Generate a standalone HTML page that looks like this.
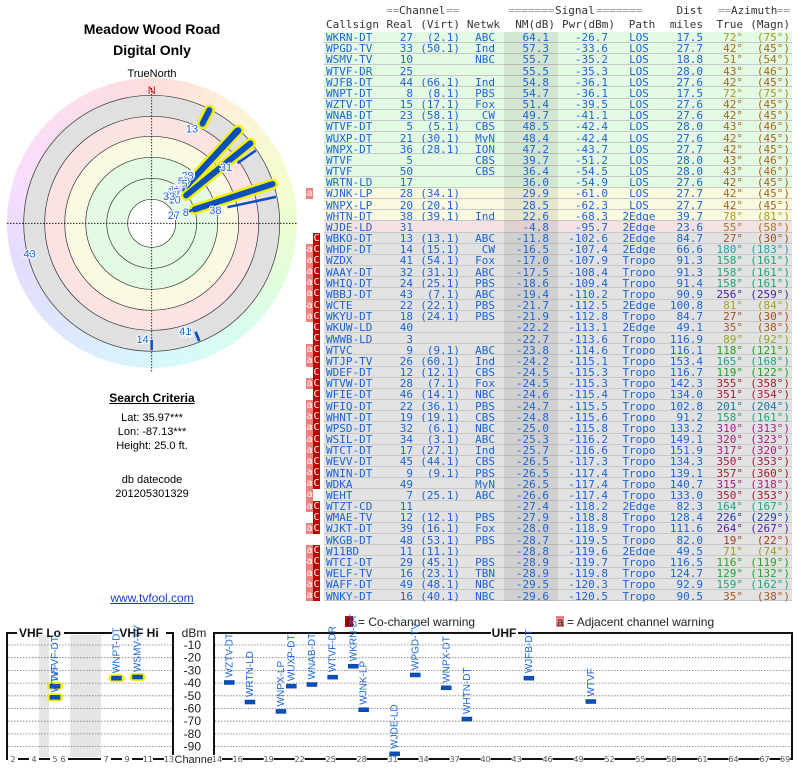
<!DOCTYPE html>
<html><head><meta charset="utf-8">
<style>
html,body{margin:0;padding:0;background:#fff;}
body{width:800px;height:768px;position:relative;overflow:hidden;font-family:"Liberation Sans",sans-serif;}
.abs{position:absolute;white-space:pre;}
.tb{font-family:"DejaVu Sans Mono","Liberation Mono",monospace;font-size:11px;line-height:11px;}
.ctr{text-align:center;width:300px;left:2px;}
#ring{position:absolute;left:6.7px;top:78.3px;width:290px;height:290px;border-radius:50%;
background:conic-gradient(hsl(0,90%,93%),hsl(40,90%,92%),hsl(70,90%,90%),hsl(100,90%,92%),hsl(160,90%,92%),hsl(190,90%,92%),hsl(220,90%,93%),hsl(250,90%,93%),hsl(290,90%,93%),hsl(330,90%,93%),hsl(360,90%,93%));}
</style></head>
<body>
<div class="abs ctr" style="top:21px;font-size:14px;font-weight:bold;">Meadow Wood Road</div>
<div class="abs ctr" style="top:42px;font-size:14px;font-weight:bold;">Digital Only</div>
<div class="abs ctr" style="top:68px;font-size:11px;">TrueNorth</div>
<div id="ring"></div>
<svg id="polar" class="abs" style="left:0;top:0" width="300" height="380"></svg>
<div class="abs ctr" style="top:391px;font-size:12px;font-weight:bold;text-decoration:underline;">Search Criteria</div>
<div class="abs ctr" style="top:412px;font-size:11px;">Lat: 35.97***</div>
<div class="abs ctr" style="top:426px;font-size:11px;">Lon: -87.13***</div>
<div class="abs ctr" style="top:440px;font-size:11px;">Height: 25.0 ft.</div>
<div class="abs ctr" style="top:474px;font-size:11px;">db datecode</div>
<div class="abs ctr" style="top:488px;font-size:11px;">201205301329</div>
<div class="abs ctr" style="top:591px;font-size:12px;color:#1a3fd0;text-decoration:underline;">www.tvfool.com</div>

<div id="table"></div>

<svg id="bars" class="abs" style="left:0;top:610px" width="800" height="158"></svg>

<script>
const calls=["WKRN-DT","WPGD-TV","WSMV-TV","WTVF-DR","WJFB-DT","WNPT-DT","WZTV-DT","WNAB-DT","WTVF-DT","WUXP-DT","WNPX-DT","WTVF","WTVF","WRTN-LD","WJNK-LP","WNPX-LP","WHTN-DT","WJDE-LD","WBKO-DT","WHDF-DT","WZDX","WAAY-DT","WHIQ-DT","WBBJ-DT","WCTE","WKYU-DT","WKUW-LD","WWWB-LD","WTVC","WTJP-TV","WDEF-DT","WTVW-DT","WFIE-DT","WFIQ-DT","WHNT-DT","WPSD-DT","WSIL-DT","WTCT-DT","WEVV-DT","WNIN-DT","WDKA","WEHT","WTZT-CD","WMAE-TV","WJKT-DT","WKGB-DT","W11BD","WTCI-DT","WELF-TV","WAFF-DT","WNKY-DT"];
const reals=[27,33,10,25,44,8,15,23,5,21,36,5,50,17,28,20,38,31,13,14,41,32,24,43,22,18,40,3,9,26,12,28,46,22,19,32,34,17,45,9,49,7,11,12,39,48,11,29,16,49,16];
const virts=["(2.1)","(50.1)","","","(66.1)","(8.1)","(17.1)","(58.1)","(5.1)","(30.1)","(28.1)","","","","(34.1)","(20.1)","(39.1)","","(13.1)","(15.1)","(54.1)","(31.1)","(25.1)","(7.1)","(22.1)","(24.1)","","","(9.1)","(60.1)","(12.1)","(7.1)","(14.1)","(36.1)","(19.1)","(6.1)","(3.1)","(27.1)","(44.1)","(9.1)","","(25.1)","","(12.1)","(16.1)","(53.1)","(11.1)","(45.1)","(23.1)","(48.1)","(40.1)"];
const nets=["ABC","Ind","NBC","","Ind","PBS","Fox","CW","CBS","MyN","ION","CBS","CBS","","","","Ind","","ABC","CW","Fox","ABC","PBS","ABC","PBS","PBS","","","ABC","Ind","CBS","Fox","NBC","PBS","CBS","NBC","ABC","Ind","CBS","PBS","MyN","ABC","","PBS","Fox","PBS","","PBS","TBN","NBC","NBC"];
const nms=[64.1,57.3,55.7,55.5,54.8,54.7,51.4,49.7,48.5,48.4,47.2,39.7,36.4,36.0,29.9,28.5,22.6,-4.8,-11.8,-16.5,-17.0,-17.5,-18.6,-19.4,-21.7,-21.9,-22.2,-22.7,-23.8,-24.2,-24.5,-24.5,-24.6,-24.7,-24.8,-25.0,-25.3,-25.7,-26.5,-26.5,-26.5,-26.6,-27.4,-27.9,-28.0,-28.7,-28.8,-28.9,-28.9,-29.5,-29.6];
const pwrs=[-26.7,-33.6,-35.2,-35.3,-36.1,-36.1,-39.5,-41.1,-42.4,-42.4,-43.7,-51.2,-54.5,-54.9,-61.0,-62.3,-68.3,-95.7,-102.6,-107.4,-107.9,-108.4,-109.4,-110.2,-112.5,-112.8,-113.1,-113.6,-114.6,-115.1,-115.3,-115.3,-115.4,-115.5,-115.6,-115.8,-116.2,-116.6,-117.3,-117.4,-117.4,-117.4,-118.2,-118.8,-118.9,-119.5,-119.6,-119.7,-119.8,-120.3,-120.5];
const paths=["LOS","LOS","LOS","LOS","LOS","LOS","LOS","LOS","LOS","LOS","LOS","LOS","LOS","LOS","LOS","LOS","2Edge","2Edge","2Edge","2Edge","Tropo","Tropo","Tropo","Tropo","2Edge","Tropo","2Edge","Tropo","Tropo","Tropo","Tropo","Tropo","Tropo","Tropo","Tropo","Tropo","Tropo","Tropo","Tropo","Tropo","Tropo","Tropo","2Edge","Tropo","Tropo","Tropo","2Edge","Tropo","Tropo","Tropo","Tropo"];
const dists=["17.5","27.7","18.8","28.0","27.6","17.5","27.6","27.6","28.0","27.6","27.7","28.0","28.0","27.6","27.7","27.7","39.7","23.6","84.7","66.6","91.3","91.3","91.4","90.9","100.8","84.7","49.1","116.9","116.1","153.4","116.7","142.3","134.0","102.8","91.2","133.2","149.1","151.9","134.3","139.1","140.7","133.0","82.3","128.4","111.6","82.0","49.5","116.5","124.7","92.9","90.5"];
const azs=[72,42,51,43,42,72,42,42,43,42,42,43,43,42,42,42,78,55,27,180,158,158,158,256,81,27,35,89,118,165,119,355,351,201,158,310,320,317,350,357,315,350,164,226,264,19,71,116,129,159,35];
const magns=[75,45,54,46,45,75,45,45,46,45,45,46,46,45,45,45,81,58,30,183,161,161,161,259,84,30,38,92,121,168,122,358,354,204,161,313,323,320,353,360,318,353,167,229,267,22,74,119,132,162,38];
const flags=["","","","","","","","","","","","","","","a","","","","c","ac","ac","ac","ac","ac","ac","ac","c","c","ac","ac","c","ac","c","ac","ac","ac","ac","ac","ac","ac","ac","a","ac","c","ac","","ac","ac","ac","ac","ac"];

const chLo=[2,4,5,6,7,9,11,13];
const chUhf=[14,16,19,22,25,28,31,34,37,40,43,46,49,52,55,58,61,64,67,69];
const dbmTicks=[-10,-20,-30,-40,-50,-60,-70,-80,-90];

function azColor(a){const h=a<90?a*0.75:a;return "hsl("+h+",70%,38%)";}
const T=document.getElementById('table');
function txt(s,x,y,align,color,name,extra){
  const d=document.createElement('div');
  d.className='abs tb';
  d.textContent=s;
  d.style.top=y+'px';
  if(align==='r'){d.style.right=(800-x)+'px';}
  else if(align==='c'){d.style.left=(x-40)+'px';d.style.width='80px';d.style.textAlign='center';}
  else d.style.left=x+'px';
  d.style.color=color;
  if(extra)Object.assign(d.style,extra);
  
  
  T.appendChild(d);return d;
}
// headers
txt("==",386,5,'l','#999','channel-header-eq');
txt("Channel",399,5,'l','#333','channel-header');
txt("==",446,5,'l','#999','channel-header-eq2');
txt("=======",508,5,'l','#999','signal-header-eq');
txt("Signal",555,5,'l','#333','signal-header');
txt("=======",596,5,'l','#999','signal-header-eq2');
txt("Dist",703,5,'r','#333','dist-header');
txt("==",718,5,'l','#999','azimuth-header-eq');
txt("Azimuth",731,5,'l','#333','azimuth-header');
txt("==",777,5,'l','#999','azimuth-header-eq2');
txt("Callsign",326,19,'l','#333','callsign-header');
txt("Real",413,19,'r','#333','real-header');
txt("(Virt)",460,19,'r','#333','virt-header');
txt("Netwk",500,19,'r','#333','netwk-header');
txt("NM(dB)",555,19,'r','#333','nm-header');
txt("Pwr(dBm)",615,19,'r','#333','pwr-header');
txt("Path",642,19,'c','#333','path-header');
txt("miles",703,19,'r','#333','miles-header');
txt("True",743,19,'r','#333','true-header');
txt("(Magn)",790,19,'r','#333','magn-header');

for(let i=0;i<calls.length;i++){
  const top=31.5+i*11.17;
  const bg=i<14?'#e3fbe3':(i<17?'#fafae0':(i<18?'#f4e2e2':'#e2e2e2'));
  const r=document.createElement('div');
  r.className='abs';
  Object.assign(r.style,{left:'324px',top:top+'px',width:'468px',height:'11.17px',background:bg,borderBottom:'1px solid #c8c8c8',boxSizing:'border-box'});
  
  
  T.appendChild(r);
  const nmbg=document.createElement('div');
  nmbg.className='abs';
  Object.assign(nmbg.style,{left:'504px',top:top+'px',width:'54px',height:'11.17px',background:'rgba(0,0,0,0.08)'});
  
  
  T.appendChild(nmbg);
  const f=flags[i];
  if(f.indexOf('a')>=0){
    const a=document.createElement('div');a.className='abs tb';a.textContent='a';
    Object.assign(a.style,{left:'306px',top:top+'px',width:'7px',height:'11.2px',background:'#f08080',color:'#fff',textAlign:'center',fontSize:'10px'});
    
    
    T.appendChild(a);
  }
  if(f.indexOf('c')>=0){
    const c=document.createElement('div');c.className='abs tb';c.textContent='C';
    Object.assign(c.style,{left:'313px',top:top+'px',width:'7px',height:'11.2px',background:'#c00000',color:'#fff',textAlign:'center',fontSize:'10px'});
    
    
    T.appendChild(c);
  }
  const y=top+0.5, col='#1a64d8';
  txt(calls[i],326,y,'l',col,'callsign-cell');
  txt(String(reals[i]),413,y,'r',col,'real-channel-cell');
  txt(virts[i],460,y,'r',col,'virtual-channel-cell');
  txt(nets[i],495,y,'r',col,'network-cell');
  txt(nms[i].toFixed(1),549,y,'r',col,'nm-cell');
  txt(pwrs[i].toFixed(1),608,y,'r',col,'power-cell');
  txt(paths[i],639,y,'c',col,'path-cell');
  txt(dists[i],703,y,'r',col,'distance-cell');
  txt(azs[i]+"°",743,y,'r',azColor(azs[i]),'azimuth-true-cell');
  txt("("+magns[i]+"°)",790,y,'r',azColor(azs[i]),'azimuth-magnetic-cell');
}

// polar plot
const NS="http://www.w3.org/2000/svg";
function el(parent,tag,attrs){const e=document.createElementNS(NS,tag);for(const k in attrs)e.setAttribute(k,attrs[k]);parent.appendChild(e);return e;}
const P=document.getElementById('polar');
const cx=151.7, cy=223.3;
const ringFill=[[128,'#e0e0e0'],[107,'#fbe3e3'],[87,'#fafae2'],[66,'#e3fbe3'],[45,'#e3fbe3']];
ringFill.forEach(function(rf){
  const c=el(P,'circle',{cx:cx,cy:cy,r:rf[0],fill:rf[1],stroke:'#333','stroke-width':0.7});
  
  
});
const inner=el(P,'circle',{cx:cx,cy:cy,r:24,fill:'#fff',stroke:'#333','stroke-width':0.7});


const hl=el(P,'line',{x1:7,y1:cy,x2:297,y2:cy,stroke:'#000','stroke-dasharray':'1.5,1.5','stroke-width':0.8});


const vl=el(P,'line',{x1:cx,y1:88,x2:cx,y2:372,stroke:'#000','stroke-dasharray':'1.5,1.5','stroke-width':0.8});


const nt=el(P,'text',{x:cx,y:94,'text-anchor':'middle','font-size':11,fill:'#d01010','font-family':'Liberation Sans, sans-serif'});
nt.textContent='N';


function rOf(nm){return Math.max(24,127-Math.max(2,nm+27));}
function pt(az,r){const a=az*Math.PI/180;return [cx+r*Math.sin(a),cy-r*Math.cos(a)];}
const halos=el(P,'g',{}),lines=el(P,'g',{}),labels=el(P,'g',{});
for(let i=calls.length-1;i>=0;i--){
  if(nms[i]<-20)continue;
  const s=pt(azs[i],rOf(nms[i])), e=pt(azs[i],127);
  const vhf=reals[i]<14;
  if(vhf){
    const h=el(halos,'line',{x1:s[0],y1:s[1],x2:e[0],y2:e[1],stroke:'#f0f000','stroke-width':11,'stroke-linecap':'round'});
    
    
  }
  const l=el(lines,'line',{x1:s[0],y1:s[1],x2:e[0],y2:e[1],stroke:'#0a4fc0','stroke-width':vhf?6:2.5,'stroke-linecap':vhf?'round':'butt'});
  
  
  const lp=pt(azs[i],rOf(nms[i])-3);
  const t=el(labels,'text',{x:lp[0]-3,y:lp[1]+6,'text-anchor':'end','font-size':11,fill:'#1a64d8',stroke:'#fff','stroke-width':2,'paint-order':'stroke','font-family':'Liberation Sans, sans-serif'});
  t.textContent=String(reals[i]);
  
  
}

// bottom chart
const B=document.getElementById('bars');
const oy=610;
function yDb(v){return 645+(-10-v)*1.27-oy;}
function xV(c){if(c<=4)return 13+10.5*(c-2);if(c<=6)return 55+8*(c-5);return 106+10.5*(c-7);}
function xU(c){return 219+10.33*(c-14);}
// gray bands
[[39,49],[70,101]].forEach(function(b){
  const r=el(B,'rect',{x:b[0],y:635-oy,width:b[1]-b[0],height:122,fill:'#e6e6e6'});
  
  
});
dbmTicks.forEach(function(v){
  const g1=el(B,'line',{x1:8,x2:172,y1:yDb(v),y2:yDb(v),stroke:'#777','stroke-dasharray':'1.5,1.5','stroke-width':0.8});
  
  
  const g2=el(B,'line',{x1:215,x2:791,y1:yDb(v),y2:yDb(v),stroke:'#777','stroke-dasharray':'1.5,1.5','stroke-width':0.8});
  
  
  const t=el(B,'text',{x:201,y:yDb(v)+4,'text-anchor':'end','font-size':12,fill:'#222','font-family':'Liberation Sans, sans-serif'});
  t.textContent=String(v);
  
  
});
// boxes
const bx1=el(B,'path',{d:'M17,'+(633-oy)+' H7 V'+(759-oy)+' H173 V'+(633-oy)+' H166 M64,'+(633-oy)+' H112',fill:'none',stroke:'#111','stroke-width':2});


const bx2=el(B,'path',{d:'M491,'+(633-oy)+' H214 V'+(759-oy)+' H792 V'+(633-oy)+' H518',fill:'none',stroke:'#111','stroke-width':2});


[['VHF Lo',40,'vhf-lo-label'],['VHF Hi',139,'vhf-hi-label'],['UHF',504,'uhf-label']].forEach(function(l){
  const t=el(B,'text',{x:l[1],y:637-oy,'text-anchor':'middle','font-size':12,'font-weight':'bold',fill:'#111','font-family':'Liberation Sans, sans-serif'});
  t.textContent=l[0];
  
  
});
const dbl=el(B,'text',{x:194,y:637-oy,'text-anchor':'middle','font-size':12,fill:'#222','font-family':'Liberation Sans, sans-serif'});
dbl.textContent='dBm';


const chl=el(B,'text',{x:195,y:763-oy,'text-anchor':'middle','font-size':11,fill:'#222','font-family':'Liberation Sans, sans-serif'});
chl.textContent='Channel';


function tick(x,c){
  const r=el(B,'rect',{x:x-5,y:755-oy,width:10,height:8,fill:'#fff'});
  
  
  const t=el(B,'text',{x:x,y:762-oy,'text-anchor':'middle','font-size':8,fill:'#555','font-family':'DejaVu Sans, sans-serif'});
  t.textContent=String(c);
  
  
}
chLo.forEach(function(c){tick(xV(c),c);});
chUhf.forEach(function(c){tick(c===14?217:xU(c)-2,c);});
// legend
const lc=el(B,'rect',{x:345,y:616-oy,width:8,height:11,fill:'#c00000'});


const lct=el(B,'text',{x:346,y:626-oy,'font-size':12,fill:'#222','font-family':'Liberation Sans, sans-serif'});
lct.textContent='C = Co-channel warning';


const la=el(B,'rect',{x:556,y:616-oy,width:8,height:11,fill:'#f08080'});


const lat=el(B,'text',{x:557,y:626-oy,'font-size':12,fill:'#222','font-family':'Liberation Sans, sans-serif'});
lat.textContent='a  = Adjacent channel warning';


// markers
for(let i=0;i<calls.length;i++){
  if(pwrs[i]<-100)continue;
  const vhf=reals[i]<14;
  const x=vhf?xV(reals[i]):xU(reals[i]);
  const y=Math.min(yDb(pwrs[i]),756-oy);
  if(vhf){
    const h=el(B,'rect',{x:x-8,y:y-4,width:16,height:8,rx:4,fill:'#f0f000'});
    
    
  }
  const m=el(B,'rect',{x:x-5,y:y-2,width:10,height:4,fill:'#0a4fc0',stroke:'#003a90','stroke-width':0.5});
  
  
  const t=el(B,'text',{x:0,y:0,'font-size':10,fill:'#1a64d8','font-family':'Liberation Sans, sans-serif',transform:'translate('+(x+3)+','+(y-5)+') rotate(-90)'});
  t.textContent=calls[i];
  
  
}
</script>
</body></html>
